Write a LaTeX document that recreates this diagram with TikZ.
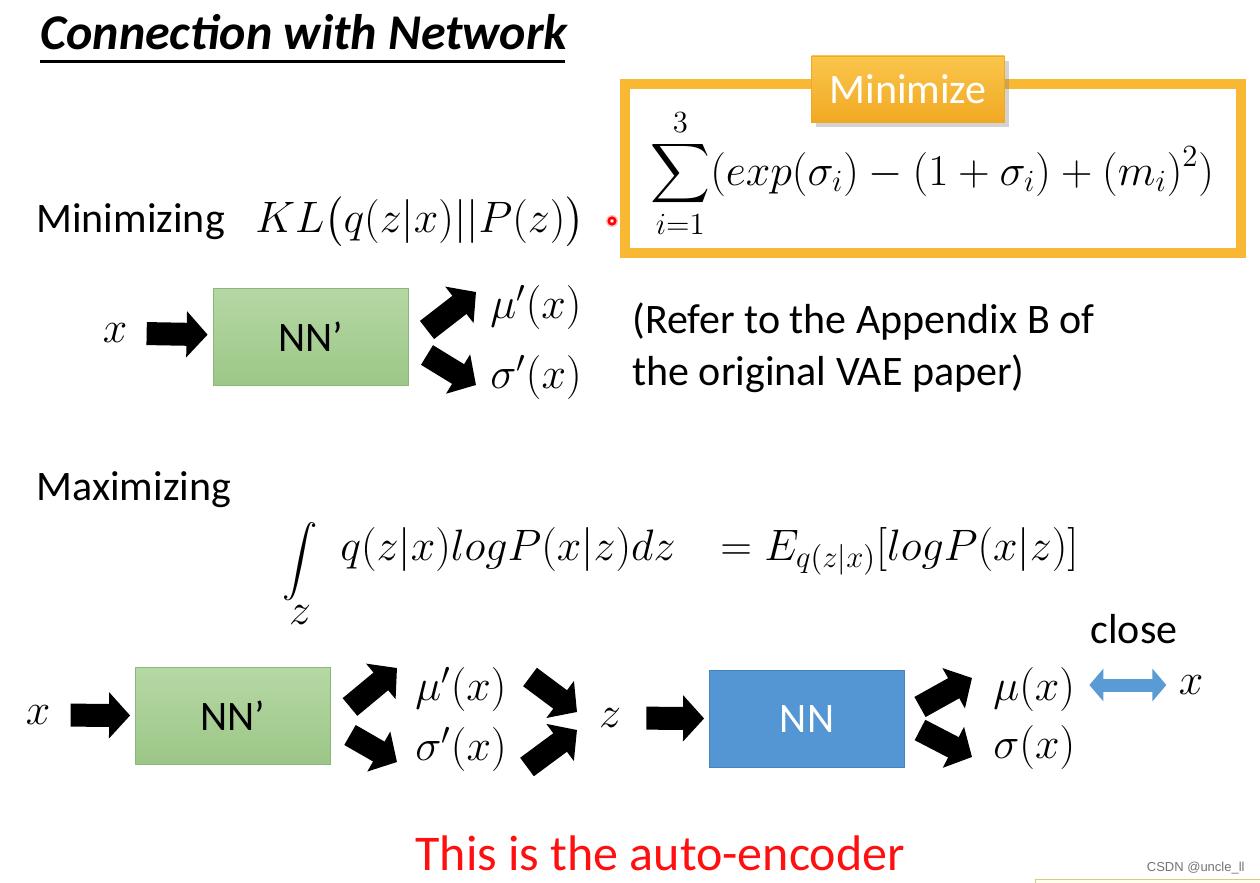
\RequirePackage{fix-cm}
\documentclass[tikz,border=0pt]{standalone}
\usepackage{exscale}
\usepackage{graphicx}
\usepackage{fontspec}
\setmainfont{Carlito}
\newfontfamily\wmfont{Liberation Sans}
\usetikzlibrary{positioning, arrows.meta, shadows}

\definecolor{nngreenT}{HTML}{B5D8A4}
\definecolor{nngreenB}{HTML}{9CC687}
\definecolor{nngreenD}{HTML}{8AB877}
\definecolor{nnblue}{HTML}{5495D3}
\definecolor{nnblueD}{HTML}{4683BE}
\definecolor{minorange}{HTML}{F8B833}
\definecolor{tagT}{HTML}{FAC64C}
\definecolor{tagB}{HTML}{F1A923}
\definecolor{closeblue}{HTML}{5B9BD5}
\definecolor{msgred}{HTML}{FF1010}

\begin{document}
\begin{tikzpicture}[x=0.5pt, y=-0.5pt,
    txt/.style={font=\fontsize{21}{25}\selectfont, inner sep=0pt},
    mtxt/.style={font=\fontsize{22}{26}\selectfont, inner sep=0pt},
    greennn/.style={draw=nngreenD, top color=nngreenT, bottom color=nngreenB,
      minimum width=97.5pt, minimum height=48.5pt, font=\fontsize{21}{25}\selectfont},
    bluenn/.style={draw=nnblueD, fill=nnblue, text=white,
      minimum width=97.5pt, minimum height=48.5pt, font=\fontsize{21}{25}\selectfont},
    fatarr/.style={line width=11.5pt, -{Triangle[length=10.5pt, width=22.5pt]}},
    dblarr/.style={draw=closeblue, line width=6.5pt,
      {Triangle[length=7pt, width=16pt]}-{Triangle[length=7pt, width=16pt]}}
  ]
  \useasboundingbox (0,0) rectangle (1260,883);

  % title
  \node[txt, anchor=base west, font=\fontsize{25}{30}\selectfont\bfseries\itshape] (title) at (40,50) {Connection with Network};
  \draw[line width=1.5pt] (title.south west |- 0,62) -- (565,62);

  % KL part
  \node[txt, anchor=base west] (mini) at (36,233) {Minimizing};
  \node[mtxt, anchor=base west] (kl) at (255,233) {$KL\bigl(q(z|x)||P(z)\bigr)$};
  \fill[red!25] (612,221) circle (6);
  \draw[red, line width=1.3pt, fill=white] (612,221) circle (3.2);

  \draw[minorange, line width=5pt] (625,84) rectangle (1241,253);
  \node[mtxt, anchor=base west] (sumf) at (650,185)
    {$\displaystyle\sum_{i=1}^{3}(exp(\sigma_i)-(1+\sigma_i)+(m_i)^2)$};
  \node[draw=tagB, top color=tagT, bottom color=tagB, drop shadow={opacity=0.35},
        minimum width=96.5pt, minimum height=33pt, text=white,
        font=\fontsize{21}{25}\selectfont] (tag) at (908,89) {Minimize};

  \node[mtxt] (xa) at (115,333) {$x$};
  \node[greennn] (nnA) at (310.5,336.5) {NN’};
  \node[mtxt, anchor=base west] (mua) at (490,318) {$\mu'(x)$};
  \node[mtxt, anchor=base west] (siga) at (490,388) {$\sigma'(x)$};
  \coordinate (upA1) at (427,330);  \coordinate (upA2) at (476,292);
  \coordinate (dnA1) at (427,355);  \coordinate (dnA2) at (476,385);
  \draw[fatarr, shorten <=9.5pt, shorten >=2.5pt] (xa) -- (nnA);
  \draw[fatarr] (upA1) -- (upA2);
  \draw[fatarr] (dnA1) -- (dnA2);
  \node[txt, anchor=base west] (ref1) at (632,334) {(Refer to the Appendix B of};
  \node[txt, anchor=base west] (ref2) at (632,386) {the original VAE paper)};

  % reconstruction part
  \node[txt, anchor=base west] (maxi) at (36,500) {Maximizing};
  \node[mtxt] (intg) at (300,562) {\scalebox{0.85}{$\displaystyle\int$}};
  \node[mtxt] (intz) at (300,615) {$z$};
  \node[mtxt, anchor=base west] (qform) at (340,560) {$q(z|x)logP(x|z)dz$};
  \node[mtxt, anchor=base west] (eform) at (720,560) {$=E_{q(z|x)}[logP(x|z)]$};

  \node[mtxt] (xb) at (38,715) {$x$};
  \node[greennn] (nnB) at (233,716) {NN’};
  \node[mtxt, anchor=base west] (mub) at (415,700) {$\mu'(x)$};
  \node[mtxt, anchor=base west] (sigb) at (415,760) {$\sigma'(x)$};
  \node[mtxt] (zb) at (610,718) {$z$};
  \node[bluenn] (nnC) at (807,719) {NN};
  \node[mtxt, anchor=base west] (muc) at (993,700) {$\mu(x)$};
  \node[mtxt, anchor=base west] (sigc) at (993,758) {$\sigma(x)$};
  \node[mtxt] (xc) at (1191,685) {$x$};
  \node[txt, anchor=base] (closel) at (1134,643) {close};

  \coordinate (upB1) at (350,707);  \coordinate (upB2) at (397,668);
  \coordinate (dnB1) at (350,735);  \coordinate (dnB2) at (397,762);
  \coordinate (cvB1) at (530,677);  \coordinate (cvB2) at (577,712);
  \coordinate (cvB3) at (527,767);  \coordinate (cvB4) at (577,730);
  \coordinate (upC1) at (920,707);  \coordinate (upC2) at (972,678);
  \coordinate (dnC1) at (920,730);  \coordinate (dnC2) at (972,757);
  \draw[fatarr, shorten <=10pt, shorten >=2.5pt] (xb) -- (nnB);
  \draw[fatarr] (upB1) -- (upB2);
  \draw[fatarr] (dnB1) -- (dnB2);
  \draw[fatarr] (cvB1) -- (cvB2);
  \draw[fatarr] (cvB3) -- (cvB4);
  \draw[fatarr, shorten <=12.5pt, shorten >=2.5pt] (zb) -- (nnC);
  \draw[fatarr] (upC1) -- (upC2);
  \draw[fatarr] (dnC1) -- (dnC2);
  \draw[dblarr, shorten <=7pt, shorten >=6pt] (muc.east |- xc) -- (xc);

  \node[txt, anchor=base west, text=msgred, font=\fontsize{25}{30}\selectfont] (msg) at (415,870) {This is the auto-encoder};
  \node[inner sep=0pt, anchor=base east, text=black!55, font=\wmfont\fontsize{6.5}{8}\selectfont] (csdn) at (1245,871) {CSDN @uncle\_ll};
  \draw[draw=olive!40, fill=yellow!8] (1035,879) rectangle (1262,886);
\end{tikzpicture}
\end{document}
